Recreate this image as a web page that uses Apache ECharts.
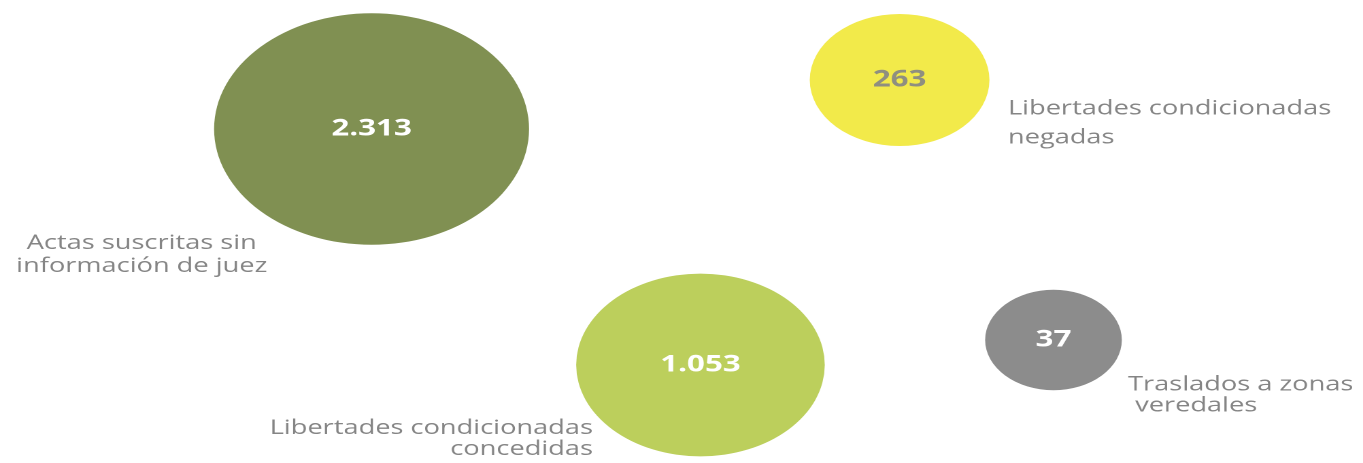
<!DOCTYPE html>
<html>
<head>
<meta charset="utf-8">
<script src="https://cdn.jsdelivr.net/npm/echarts@6/dist/echarts.min.js"></script>
<style>
  html, body { margin: 0; padding: 0; background: #ffffff; overflow: hidden; }
  #wrap { width: 1363px; height: 463px; overflow: hidden; }
  #c { width: 1002px; height: 463px; transform: scaleX(1.3603); transform-origin: 0 0; }
</style>
</head>
<body>
<div id="wrap"><div id="c"></div></div>
<script>
// ---- data ----
const categories = [
  'Actas suscritas sin\ninformación de juez',
  'Libertades condicionadas\nnegadas',
  'Libertades condicionadas\nconcedidas',
  'Traslados a zonas\n veredales'
];
const values = [2313, 263, 1053, 37];

// ---- layout (axis units, 0-100 across the plot) ----
const bubbleX = [27.26, 66.0, 51.39, 77.29];
const bubbleY = [27.86, 17.28, 78.83, 73.43];
const labelX = [10.4, 73.95, 43.5, 82.76];
const labelY = [55.0, 26.6, 94.8, 85.4];
const labelAlign = ['center', 'left', 'right', 'left'];
const labelLineHeight = [23, 29, 21, 21];

// ---- styles ----
const colors = ['#809052', '#f2ea4a', '#bccf5c', '#8c8c8c'];
const valueTextColors = ['#ffffff', '#8f8f80', '#ffffff', '#ffffff'];

function fmt(v) {
  return String(v).replace(/\B(?=(\d{3})+(?!\d))/g, '.');
}

const bubbleData = values.map((v, i) => ({
  value: [bubbleX[i], bubbleY[i], v],
  itemStyle: { color: colors[i], opacity: 1 },
  label: { color: valueTextColors[i] }
}));

const labelData = categories.map((c, i) => ({
  name: c,
  value: [labelX[i], labelY[i]],
  label: { align: labelAlign[i], lineHeight: labelLineHeight[i] }
}));

const chart = echarts.init(document.getElementById('c'), null, { devicePixelRatio: 2 });
chart.setOption({
  animation: false,
  backgroundColor: '#ffffff',
  grid: { left: 0, right: 0, top: 0, bottom: 0 },
  xAxis: { type: 'value', min: 0, max: 100, show: false },
  yAxis: { type: 'value', min: 0, max: 100, inverse: true, show: false },
  series: [
    {
      type: 'scatter',
      silent: true,
      symbol: 'circle',
      symbolSize: d => 81.5 + 3.12 * Math.sqrt(d[2]),
      itemStyle: { opacity: 1 },
      data: bubbleData,
      label: {
        show: true,
        position: 'inside',
        formatter: p => fmt(p.value[2]),
        fontFamily: '"Open Sans", "Noto Sans", sans-serif',
        fontWeight: 'bold',
        fontSize: 23
      }
    },
    {
      type: 'scatter',
      silent: true,
      symbolSize: 0,
      data: labelData,
      label: {
        show: true,
        position: 'inside',
        verticalAlign: 'middle',
        formatter: p => p.name,
        color: '#666666',
        fontFamily: '"Open Sans", "Noto Sans", sans-serif',
        fontSize: 20
      }
    }
  ]
});
</script>
</body>
</html>
